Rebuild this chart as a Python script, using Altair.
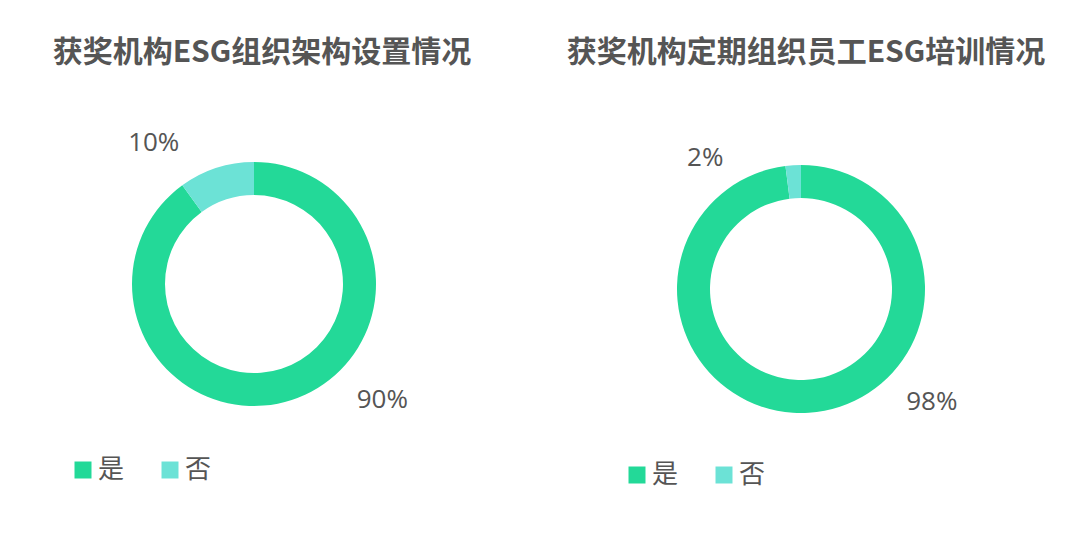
import altair as alt
import pandas as pd
import math

categories = ["是", "否"]
colors = ["#23D998", "#6CE2D6"]
left_values = [90, 10]
right_values = [98, 2]
titles = ["获奖机构ESG组织架构设置情况", "获奖机构定期组织员工ESG培训情况"]

W, H = 1064, 519
GRAY = "#555555"
CJK = "Noto Sans CJK SC"

def make_df(values):
    return pd.DataFrame({"cat": categories, "val": values, "idx": list(range(len(values)))})

left_df = make_df(left_values)
right_df = make_df(right_values)

def donut(df, cx, cy, r_out, r_in, legend_x, legend_y):
    return alt.Chart(df).mark_arc(radius=r_out, radius2=r_in, strokeWidth=0).encode(
        theta=alt.Theta("val:Q", stack=True, scale=alt.Scale(domain=[0, 100])),
        order=alt.Order("idx:Q"),
        color=alt.Color(
            "cat:N",
            scale=alt.Scale(domain=categories, range=colors),
            legend=alt.Legend(
                title=None, orient="none", legendX=legend_x, legendY=legend_y,
                direction="horizontal", symbolType="square", symbolSize=289,
                symbolStrokeWidth=0, symbolOpacity=1, labelFontSize=26,
                labelFont=CJK, labelColor=GRAY, columnPadding=32,
                labelOffset=2, padding=0,
            ),
        ),
        x=alt.value(cx), y=alt.value(cy),
    )

def label(df, cat, cx, cy, dx, dy):
    return alt.Chart(df).transform_window(
        cum="sum(val)", sort=[alt.SortField("idx")]
    ).transform_calculate(
        mid="datum.cum - datum.val / 2",
        txt="datum.val + '%'",
    ).transform_filter(
        alt.datum.cat == cat
    ).mark_text(
        radius=140, dx=dx, dy=dy, fontSize=26, font="Open Sans", color=GRAY
    ).encode(
        theta=alt.Theta("mid:Q", stack=None, scale=alt.Scale(domain=[0, 100], range=[0, 2 * math.pi])),
        text="txt:N",
        x=alt.value(cx), y=alt.value(cy),
    )

lcx, lcy = 246, 276
rcx, rcy = 793, 281

arcL = donut(left_df, lcx, lcy, 122, 89, 62, 449)
arcR = donut(right_df, rcx, rcy, 124, 91, 616, 454)

labL1 = label(left_df, "否", lcx, lcy, -57, -8)
labL2 = label(left_df, "是", lcx, lcy, 85, -17)
labR1 = label(right_df, "否", rcx, rcy, -87, 9)
labR2 = label(right_df, "是", rcx, rcy, 122, -27)

t1 = alt.Chart(pd.DataFrame({"t": [titles[0]]})).mark_text(
    font=CJK, fontSize=30, fontWeight="bold", color=GRAY
).encode(text="t:N", x=alt.value(254), y=alt.value(45))
t2 = alt.Chart(pd.DataFrame({"t": [titles[1]]})).mark_text(
    font=CJK, fontSize=30, fontWeight="bold", color=GRAY
).encode(text="t:N", x=alt.value(798), y=alt.value(45))

chart = alt.layer(arcL, arcR, labL1, labL2, labR1, labR2, t1, t2).resolve_scale(
    color="independent", theta="independent"
).properties(
    width=W, height=H, padding=0,
    autosize=alt.AutoSizeParams(type="fit", contains="padding"),
    background="white",
).configure_view(stroke=None, strokeWidth=0)

chart.save("out.html", embed_options={"renderer": "svg", "actions": False})
